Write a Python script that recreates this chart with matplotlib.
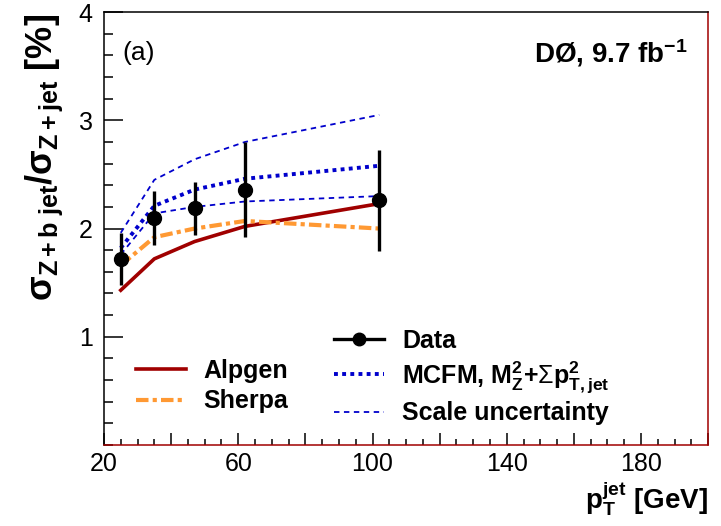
import matplotlib
matplotlib.use("Agg")
import matplotlib.pyplot as plt
from matplotlib.lines import Line2D
from matplotlib.ticker import FixedLocator, MultipleLocator, FuncFormatter

plt.rcParams['font.family'] = ['Liberation Sans', 'DejaVu Sans']
plt.rcParams['mathtext.fontset'] = 'custom'
plt.rcParams['mathtext.rm'] = 'Liberation Sans'
plt.rcParams['mathtext.it'] = 'Liberation Sans:italic'
plt.rcParams['mathtext.bf'] = 'Liberation Sans:bold'

# jet pT bin centres [GeV]
pt = [25, 35, 47, 62, 102]

# data ratio [%] with total uncertainties
data = [1.72, 2.10, 2.19, 2.36, 2.26]
err_up = [0.24, 0.25, 0.24, 0.44, 0.47]
err_dn = [0.24, 0.25, 0.25, 0.44, 0.47]

# predictions
alpgen = [1.43, 1.72, 1.88, 2.02, 2.23]
sherpa = [1.66, 1.92, 2.00, 2.07, 2.00]
mcfm = [1.82, 2.21, 2.36, 2.46, 2.58]
mcfm_hi = [1.96, 2.45, 2.64, 2.80, 3.05]
mcfm_lo = [1.76, 2.14, 2.20, 2.25, 2.30]

dark_red = '#a00000'
orange = '#ff9933'
blue = '#0000cc'

fig = plt.figure(figsize=(7.21, 5.26), dpi=100)
ax = fig.add_axes([0.1442, 0.154, 0.838, 0.823])

ax.plot(pt, alpgen, color=dark_red, lw=2.6, label='Alpgen', zorder=2)
ax.plot(pt, sherpa, color=orange, lw=3.0, dashes=(3, 1, 1, 1), label='Sherpa', zorder=2)
ax.plot(pt, mcfm_hi, color=blue, lw=1.3, dashes=(3, 2.5), zorder=3)
ax.plot(pt, mcfm_lo, color=blue, lw=1.3, dashes=(3, 2.5), label='Scale uncertainty', zorder=3)
ax.plot(pt, mcfm, color=blue, lw=2.8, dashes=(1, 1.1),
        label=r'MCFM, M$_\mathbf{Z}^\mathbf{2}$+$\Sigma$p$_\mathbf{T,jet}^\mathbf{2}$', zorder=3)
ax.errorbar(pt, data, yerr=[err_dn, err_up], fmt='o', color='black', ms=10,
            elinewidth=2.4, capsize=0, zorder=5)

ax.set_xlim(20, 200)
ax.set_ylim(0, 4)

ax.xaxis.set_major_locator(MultipleLocator(20))
ax.xaxis.set_minor_locator(MultipleLocator(5))
ax.xaxis.set_major_formatter(FuncFormatter(lambda v, p: f'{v:.0f}' if round(v - 20) % 40 == 0 else ''))
ax.yaxis.set_major_locator(FixedLocator([1, 2, 3, 4]))
ax.yaxis.set_minor_locator(MultipleLocator(0.2))

ax.tick_params(axis='both', which='both', direction='in', top=False, right=False,
               labelsize=18, width=1.1, color='black')
ax.tick_params(axis='x', which='major', length=9, pad=5)
ax.tick_params(axis='x', which='minor', length=4)
ax.tick_params(axis='y', which='major', length=13.5, pad=8)
ax.tick_params(axis='y', which='minor', length=6.7)

for s in ax.spines.values():
    s.set_linewidth(1.1)
ax.spines['bottom'].set_color(dark_red)
ax.spines['right'].set_color(dark_red)

# legend: left column (Alpgen, Sherpa), right column (Data, MCFM, Scale)
h, l = ax.get_legend_handles_labels()
hd = dict(zip(l, h))
blank = Line2D([], [], color='none')
data_h = Line2D([], [], color='black', lw=2.4, marker='o', ms=9)
handles = [blank, hd['Alpgen'], hd['Sherpa'], data_h, h[3], hd['Scale uncertainty']]
labels = ['', 'Alpgen', 'Sherpa', 'Data', l[3], 'Scale uncertainty']
leg = ax.legend(handles, labels, ncol=2, loc='upper left', bbox_to_anchor=(0.053, 0.268),
                frameon=False, borderpad=0, borderaxespad=0, handlelength=2.0,
                handletextpad=0.7, columnspacing=1.85, labelspacing=0.25,
                prop={'size': 18, 'weight': 'bold'})

ax.text(0.03, 0.905, '(a)', transform=ax.transAxes, fontsize=19, ha='left', va='center')
ax.text(0.965, 0.905, r'DØ, 9.7 fb$^\mathbf{-1}$', transform=ax.transAxes, fontsize=20,
        fontweight='bold', ha='right', va='center')

fig.text(0.982, 0.052, r'p$_\mathbf{T}^\mathbf{jet}$ [GeV]', fontsize=20, fontweight='bold',
         ha='right', va='center')
fig.text(0.062, 0.70, r'σ$_\mathbf{Z+b\ jet}$/σ$_\mathbf{Z+jet}$ [%]', fontsize=26,
         fontweight='bold', rotation=90, ha='center', va='center')

fig.savefig('out.png', dpi=100)
